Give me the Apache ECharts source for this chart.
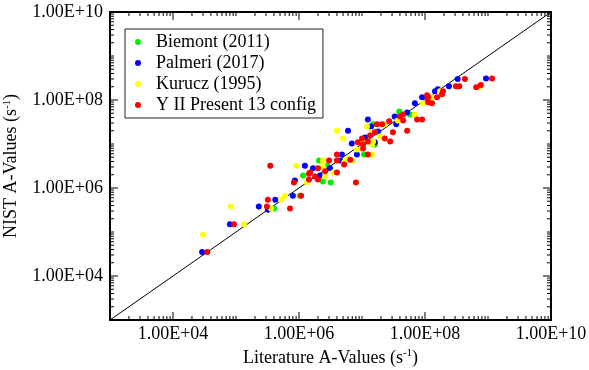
<!DOCTYPE html>
<html>
<head>
<meta charset="utf-8">
<script src="https://cdn.jsdelivr.net/npm/echarts@6/dist/echarts.min.js"></script>
<style>html,body{margin:0;padding:0;background:#fff}#c{width:589px;height:370px}</style>
</head>
<body>
<div id="c"></div>
<script>
const seriesNames = ['Biemont (2011)', 'Palmeri (2017)', 'Kurucz (1995)', 'Y II Present 13 config'];
const seriesColors = ['#00ee00', '#0000ff', '#ffff00', '#ff0000'];
const labelExponents = [4, 6, 8, 10];
const axisMin = 1e3, axisMax = 1e10;
const diagonal = [[1e3, 1e3], [1e10, 1e10]];

const biemont = [
  [1.16e6, 1.92e6], [1.04e6, 6.7e5], [4.0e5, 3.4e5], [2.08e6, 4.2e6], [2.8e6, 3.2e6],
  [2.4e6, 1.40e6], [3.2e6, 1.33e6], [1.08e7, 5.8e6], [1.6e7, 9.8e6], [5.8e7, 4.7e7],
  [3.9e7, 5.5e7], [1.5e7, 2.8e7]
];
const palmeri = [
  [2.9e4, 3.5e4], [8.0e4, 1.5e5], [2.3e5, 3.8e5], [4.2e5, 5.4e5], [3.2e5, 3.2e5],
  [8.0e5, 6.7e5], [8.6e5, 1.48e6], [1.24e6, 3.2e6], [1.67e6, 2.8e6], [3.1e6, 2.8e6],
  [2.15e6, 1.92e6], [4.5e6, 4.2e6], [4.8e6, 5.8e6], [8.3e6, 5.8e6], [6.9e6, 1.03e7],
  [1.6e7, 1.09e7], [6.0e6, 2.0e7], [1.24e7, 3.6e7], [1.39e7, 2.5e7], [3.3e7, 4.2e7],
  [5.2e7, 5.2e7], [3.5e7, 2.8e7], [1.8e7, 1.93e7], [1.12e7, 1.41e7], [6.9e7, 8.4e7],
  [9.0e7, 1.15e8], [1.08e8, 1.21e8], [1.44e8, 1.58e8], [1.6e8, 1.75e8], [2.4e8, 2.05e8],
  [3.3e8, 3.0e8], [9.3e8, 3.1e8]
];
const kurucz = [
  [3.0e4, 8.7e4], [1.34e5, 1.5e5], [8.3e4, 3.8e5], [3.6e5, 3.4e5], [5.2e5, 5.4e5],
  [6.0e5, 6.7e5], [9.0e5, 3.2e6], [1.34e6, 1.33e6], [2.4e6, 3.1e6], [2.4e6, 4.2e6],
  [2.6e6, 1.82e6], [3.5e6, 2.25e6], [5.8e6, 4.7e6], [7.2e6, 4.2e6], [5.2e6, 3.8e6],
  [8.3e6, 7.5e6], [1.04e7, 1.09e7], [1.44e7, 9.8e6], [1.44e7, 5.8e6], [4.0e6, 2.0e7],
  [5.0e6, 1.34e7], [1.2e7, 2.5e7], [2.3e7, 2.8e7], [3.7e7, 3.4e7], [1.44e7, 1.84e7],
  [1.93e7, 1.49e7], [1.5e7, 1.14e7], [6.9e7, 4.7e7], [9.3e7, 8.4e7], [1.29e8, 1.15e8],
  [1.73e8, 1.58e8], [7.2e8, 1.95e8]
];
const present = [
  [3.5e4, 3.5e4], [9.3e4, 1.5e5], [3.1e5, 3.8e5], [3.2e5, 5.4e5], [3.5e5, 3.2e6],
  [7.2e5, 3.4e5], [1.08e6, 6.7e5], [8.3e5, 1.33e6], [1.44e6, 2.1e6], [1.44e6, 1.56e6],
  [1.5e6, 2.25e6], [2.0e6, 2.8e6], [2.6e6, 2.4e6], [4.0e6, 2.25e6], [1.8e6, 1.82e6],
  [2.0e6, 1.56e6], [3.0e6, 4.2e6], [4.0e6, 4.2e6], [6.5e6, 4.4e6], [5.2e6, 3.4e6],
  [4.0e6, 5.8e6], [1.04e7, 7.9e6], [1.24e7, 5.8e6], [8.0e6, 1.33e6], [8.6e6, 1.09e7],
  [1.24e7, 1.14e7], [1.0e7, 1.34e7], [1.04e7, 9.8e6], [1.73e7, 2.8e7], [2.08e7, 2.8e7],
  [2.7e7, 3.3e7], [4.0e7, 4.2e7], [4.5e7, 4.7e7], [4.5e7, 3.4e7], [3.1e7, 1.84e7],
  [5.2e7, 2.0e7], [1.6e7, 1.84e7], [1.34e7, 1.57e7], [2.3e7, 1.34e7], [2.8e7, 1.14e7],
  [7.5e7, 3.6e7], [9.0e7, 3.6e7], [1.12e8, 8.9e7], [1.29e8, 8.4e7], [1.08e8, 1.28e8],
  [1.12e8, 1.15e8], [1.55e8, 1.15e8], [1.86e8, 1.35e8], [1.93e8, 1.58e8], [3.1e8, 2.05e8],
  [3.5e8, 2.05e8], [4.3e8, 3.0e8], [6.5e8, 1.95e8], [7.7e8, 2.2e8], [1.16e9, 3.1e8]
];
const seriesData = [biemont, palmeri, kurucz, present];

const FONT = '"Liberation Serif", "DejaVu Serif", serif';

function fmtLabel(v) {
  const e = Math.round(Math.log10(v));
  if (labelExponents.indexOf(e) < 0) return '';
  return '1.00E+' + (e < 10 ? '0' + e : '' + e);
}

function tickValues() {
  const out = [];
  for (let e = 3; e <= 10; e++) {
    out.push({ v: Math.pow(10, e), major: labelExponents.indexOf(e) >= 0 });
    if (e < 10) for (let k = 2; k <= 9; k++) out.push({ v: k * Math.pow(10, e), major: false });
  }
  return out;
}

const chart = echarts.init(document.getElementById('c'), null, { renderer: 'canvas' });

const scatterSeries = seriesNames.map((n, i) => ({
  name: n,
  type: 'scatter',
  data: seriesData[i],
  symbol: 'circle',
  symbolSize: 6,
  itemStyle: { color: seriesColors[i], opacity: 1 },
  z: 3 + i,
  silent: true
}));

const axisCommon = {
  type: 'log',
  logBase: 10,
  min: axisMin,
  max: axisMax,
  splitLine: { show: false },
  axisTick: { show: false },
  minorTick: { show: false },
  axisLine: { show: true, onZero: false, lineStyle: { color: '#000', width: 2 } }
};

const option = {
  animation: false,
  backgroundColor: '#fff',
  grid: { left: 110, right: 38, top: 12, bottom: 50, containLabel: false, outerBoundsMode: 'none' },
  legend: {
    data: seriesNames,
    orient: 'vertical',
    left: 125,
    top: 29,
    padding: [4, 7, 4, 10],
    itemGap: 3,
    itemWidth: 20,
    itemHeight: 6,
    icon: 'circle',
    borderColor: '#222',
    borderWidth: 1,
    textStyle: { fontFamily: FONT, fontSize: 18, color: '#000', lineHeight: 15, padding: [0, 0, 0, 3] }
  },
  xAxis: [
    Object.assign({}, axisCommon, {
      position: 'bottom',
      name: 'Literature A-Values (s{sup|-1})',
      nameLocation: 'middle',
      nameGap: 28,
      nameTextStyle: {
        fontFamily: FONT, fontSize: 18, color: '#000', lineHeight: 20,
        rich: { sup: { fontFamily: FONT, fontSize: 11, verticalAlign: 'top', lineHeight: 12, color: '#000' } }
      },
      axisLabel: { show: true, formatter: fmtLabel, fontFamily: FONT, fontSize: 18, color: '#000', margin: 5 }
    }),
    Object.assign({}, axisCommon, { position: 'top', axisLabel: { show: false } })
  ],
  yAxis: [
    Object.assign({}, axisCommon, {
      position: 'left',
      name: 'NIST A-Values (s{sup|-1})',
      nameLocation: 'middle',
      nameGap: 84,
      nameRotate: 90,
      nameTextStyle: {
        fontFamily: FONT, fontSize: 18, color: '#000', lineHeight: 20,
        rich: { sup: { fontFamily: FONT, fontSize: 11, verticalAlign: 'top', lineHeight: 12, color: '#000' } }
      },
      axisLabel: { show: true, formatter: fmtLabel, fontFamily: FONT, fontSize: 18, color: '#000', margin: 7 }
    }),
    Object.assign({}, axisCommon, { position: 'right', axisLabel: { show: false } })
  ],
  series: [
    {
      type: 'line',
      data: diagonal,
      showSymbol: false,
      symbol: 'none',
      lineStyle: { color: '#000', width: 1 },
      silent: true,
      z: 2
    },
    ...scatterSeries,
    {
      type: 'custom',
      silent: true,
      z: 10,
      data: [[axisMin, axisMin]],
      renderItem: function (params, api) {
        const children = [];
        const ticks = tickValues();
        const style = { stroke: '#000', lineWidth: 1 };
        ticks.forEach(t => {
          const len = t.major ? 8 : 4;
          const b = api.coord([t.v, axisMin]);
          const tp = api.coord([t.v, axisMax]);
          children.push({ type: 'line', shape: { x1: b[0], y1: b[1], x2: b[0], y2: b[1] - len }, style: style });
          children.push({ type: 'line', shape: { x1: tp[0], y1: tp[1], x2: tp[0], y2: tp[1] + len }, style: style });
          const l = api.coord([axisMin, t.v]);
          const r = api.coord([axisMax, t.v]);
          children.push({ type: 'line', shape: { x1: l[0], y1: l[1], x2: l[0] + len, y2: l[1] }, style: style });
          children.push({ type: 'line', shape: { x1: r[0], y1: r[1], x2: r[0] - len, y2: r[1] }, style: style });
        });
        return { type: 'group', children: children };
      }
    }
  ]
};
chart.setOption(option);
</script>
</body>
</html>
